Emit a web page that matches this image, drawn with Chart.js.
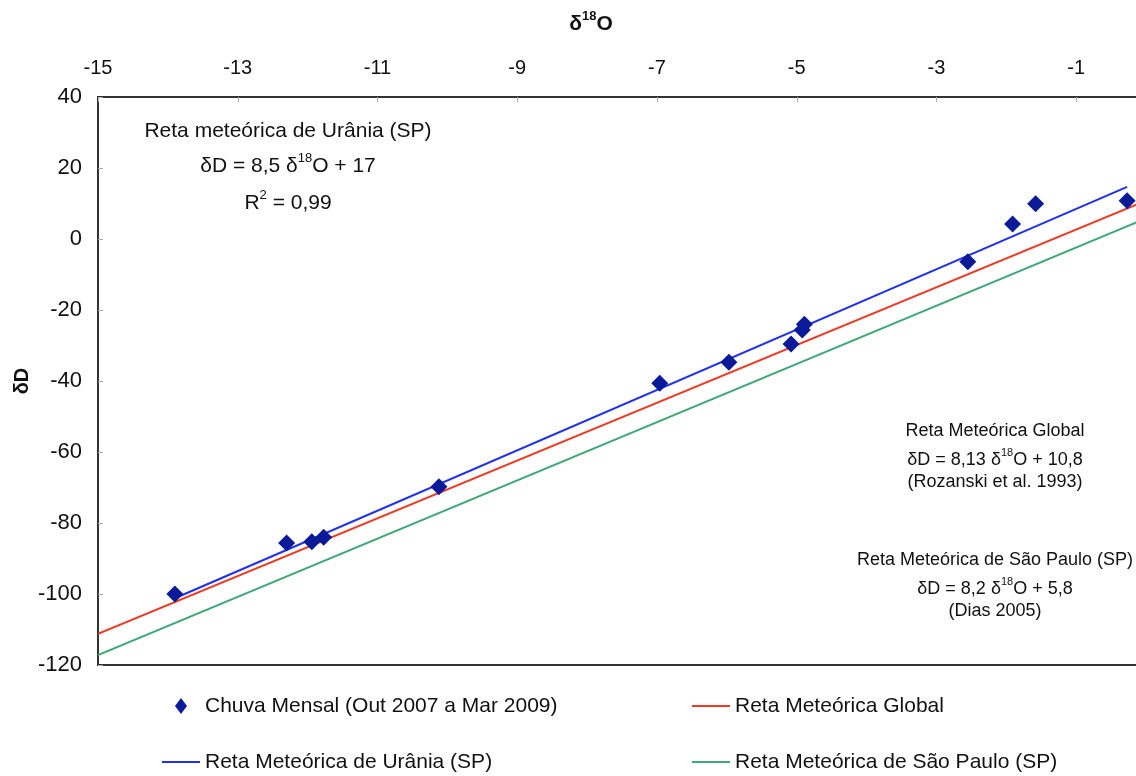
<!DOCTYPE html>
<html>
<head>
<meta charset="utf-8">
<script src="https://cdn.jsdelivr.net/npm/chart.js@4.4.1/dist/chart.umd.min.js"></script>
<style>
html, body { margin: 0; padding: 0; background: #fff; overflow: hidden; }
#wrap { width: 1136px; height: 776px; overflow: hidden; }
</style>
</head>
<body>
<div id="wrap"><canvas id="chart" width="1160" height="776"></canvas></div>
<script>
// chuva mensal: delta 18O (x) e delta D (y)
var chuvaX = [-13.9, -12.3, -11.94, -11.77, -10.12, -6.96, -5.97, -5.08, -4.92, -4.89, -2.55, -1.91, -1.58, -0.27];
var chuvaY = [-100.0, -85.6, -85.3, -84.0, -69.8, -40.6, -34.7, -29.6, -25.6, -24.0, -6.4, 4.2, 9.9, 10.8];

// retas meteoricas (pontos extremos)
var uraniaX = [-13.9, -0.27];
var uraniaY = [-101.2, 14.7];
var globalX = [-15, 0];
var globalY = [-111.2, 10.8];
var saoPauloX = [-15, 0];
var saoPauloY = [-117.2, 5.8];

var xTicks = [-15, -13, -11, -9, -7, -5, -3, -1];
var yTicks = [40, 20, 0, -20, -40, -60, -80, -100, -120];

var FONT = '"Liberation Sans", Arial, sans-serif';
var colChuva = '#0a1a98';
var colUrania = '#1f30ee';
var colGlobal = '#ee3a24';
var colSP = '#3fa97a';

function pts(xs, ys) {
    return xs.map(function (x, i) { return { x: x, y: ys[i] }; });
}

// texto com sobrescrito: parts = [[texto, sobrescrito?], ...]
function drawRich(ctx, parts, cx, cy, size, weight) {
    var w8 = weight ? weight + ' ' : '';
    var supSize = Math.round(size * 0.62);
    var w = 0;
    parts.forEach(function (p) {
        ctx.font = w8 + (p[1] ? supSize : size) + 'px ' + FONT;
        w += ctx.measureText(p[0]).width;
    });
    var x = cx - w / 2;
    ctx.textAlign = 'left';
    ctx.textBaseline = 'middle';
    parts.forEach(function (p) {
        ctx.font = w8 + (p[1] ? supSize : size) + 'px ' + FONT;
        ctx.fillText(p[0], x, p[1] ? cy - size * 0.38 : cy);
        x += ctx.measureText(p[0]).width;
    });
}

var extras = {
    id: 'extras',
    afterDraw: function (chart) {
        var ctx = chart.ctx;
        var a = chart.chartArea;
        var xs = chart.scales.x, ys = chart.scales.y;
        ctx.save();

        // moldura inferior
        ctx.strokeStyle = '#333';
        ctx.lineWidth = 2;
        ctx.beginPath();
        ctx.moveTo(a.left, a.bottom);
        ctx.lineTo(a.right, a.bottom);
        ctx.stroke();

        // marcas internas
        ctx.strokeStyle = '#aaa';
        ctx.lineWidth = 1;
        xTicks.forEach(function (v) {
            var px = Math.round(xs.getPixelForValue(v)) + 0.5;
            ctx.beginPath(); ctx.moveTo(px, a.top); ctx.lineTo(px, a.top + 5); ctx.stroke();
        });
        yTicks.forEach(function (v) {
            var py = Math.round(ys.getPixelForValue(v)) + 0.5;
            ctx.beginPath(); ctx.moveTo(a.left, py); ctx.lineTo(a.left + 5, py); ctx.stroke();
        });

        // titulo do eixo x
        ctx.fillStyle = '#111';
        drawRich(ctx, [['δ'], ['18', true], ['O']], 591, 24, 21, 'bold');

        // anotacoes
        drawRich(ctx, [['Reta meteórica de Urânia (SP)']], 288, 131, 21);
        drawRich(ctx, [['δD = 8,5 δ'], ['18', true], ['O + 17']], 288, 166, 21);
        drawRich(ctx, [['R'], ['2', true], [' = 0,99']], 288, 203, 21);

        drawRich(ctx, [['Reta Meteórica Global']], 995, 431, 18);
        drawRich(ctx, [['δD = 8,13 δ'], ['18', true], ['O + 10,8']], 995, 460, 18);
        drawRich(ctx, [['(Rozanski et al. 1993)']], 995, 482, 18);
        drawRich(ctx, [['Reta Meteórica de São Paulo (SP)']], 995, 560, 18);
        drawRich(ctx, [['δD = 8,2 δ'], ['18', true], ['O + 5,8']], 995, 589, 18);
        drawRich(ctx, [['(Dias 2005)']], 995, 611, 18);

        // legenda
        var items = [
            { label: 'Chuva Mensal (Out 2007 a Mar 2009)', marker: true, color: colChuva, x: 162, y: 706 },
            { label: 'Reta Meteórica Global', color: colGlobal, x: 692, y: 706 },
            { label: 'Reta Meteórica de Urânia (SP)', color: colUrania, x: 162, y: 762 },
            { label: 'Reta Meteórica de São Paulo (SP)', color: colSP, x: 692, y: 762 }
        ];
        items.forEach(function (it) {
            if (it.marker) {
                ctx.fillStyle = it.color;
                ctx.beginPath();
                ctx.moveTo(181, it.y - 8);
                ctx.lineTo(187, it.y);
                ctx.lineTo(181, it.y + 8);
                ctx.lineTo(175, it.y);
                ctx.closePath();
                ctx.fill();
            } else {
                ctx.strokeStyle = it.color;
                ctx.lineWidth = 2;
                ctx.beginPath();
                ctx.moveTo(it.x, it.y);
                ctx.lineTo(it.x + 38, it.y);
                ctx.stroke();
            }
            ctx.fillStyle = '#111';
            ctx.font = '21px ' + FONT;
            ctx.textAlign = 'left';
            ctx.textBaseline = 'middle';
            ctx.fillText(it.label, it.x + 43, it.y);
        });

        ctx.restore();
    }
};

var lineDs = function (label, xs, ys, color) {
    return {
        label: label,
        data: pts(xs, ys),
        showLine: true,
        borderColor: color,
        borderWidth: 2,
        pointRadius: 0,
        fill: false
    };
};

new Chart(document.getElementById('chart'), {
    type: 'scatter',
    data: {
        datasets: [
            {
                label: 'Chuva Mensal (Out 2007 a Mar 2009)',
                data: pts(chuvaX, chuvaY),
                pointStyle: 'rectRot',
                pointRadius: 8.5,
                backgroundColor: colChuva,
                borderColor: colChuva,
                borderWidth: 0
            },
            lineDs('Reta Meteórica de Urânia (SP)', uraniaX, uraniaY, colUrania),
            lineDs('Reta Meteórica Global', globalX, globalY, colGlobal),
            lineDs('Reta Meteórica de São Paulo (SP)', saoPauloX, saoPauloY, colSP)
        ]
    },
    options: {
        responsive: false,
        animation: false,
        layout: { padding: { top: 0, left: 0, right: 14, bottom: 111 } },
        plugins: { legend: { display: false }, tooltip: { enabled: false } },
        scales: {
            x: {
                type: 'linear',
                position: 'top',
                min: -15,
                max: 0,
                afterBuildTicks: function (s) { s.ticks = xTicks.map(function (v) { return { value: v }; }); },
                afterFit: function (s) { s.height = 97; },
                grid: { display: false },
                border: { display: true, color: '#333', width: 2 },
                ticks: { color: '#111', font: { family: FONT, size: 20 }, padding: 9 }
            },
            y: {
                type: 'linear',
                min: -120,
                max: 40,
                afterBuildTicks: function (s) { s.ticks = yTicks.map(function (v) { return { value: v }; }); },
                afterFit: function (s) { s.width = 98; },
                grid: { display: false },
                border: { display: true, color: '#333', width: 2 },
                ticks: { color: '#111', font: { family: FONT, size: 22 }, padding: 8 },
                title: {
                    display: true, text: 'δD', color: '#111',
                    font: { family: FONT, size: 20, weight: 'bold' },
                    padding: { top: 10, bottom: 0 }
                }
            }
        }
    },
    plugins: [extras]
});
</script>
</body>
</html>
